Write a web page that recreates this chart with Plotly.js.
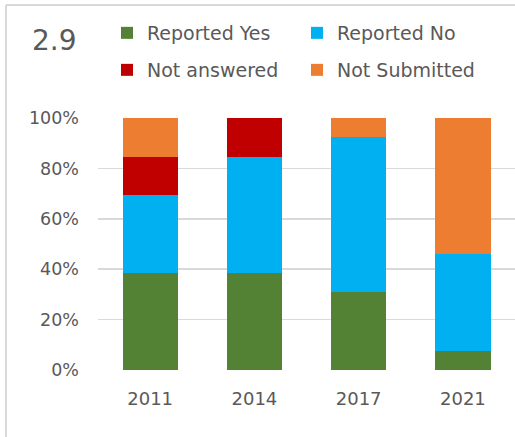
<!DOCTYPE html>
<html>
<head>
<meta charset="utf-8">
<script src="https://cdn.plot.ly/plotly-3.0.1.min.js"></script>
<style>html,body{margin:0;padding:0;background:#fff;}#chart{width:515px;height:437px;}</style>
</head>
<body>
<div id="chart"></div>
<script>
var years = ['2011', '2014', '2017', '2021'];
var reportedYes = [38.5, 38.5, 30.8, 7.7];
var reportedNo = [30.8, 46.2, 61.5, 38.5];
var notAnswered = [15.4, 15.4, 0, 0];
var notSubmitted = [15.4, 0, 7.7, 53.8];
var yTicks = [0, 20, 40, 60, 80, 100];
var yTickLabels = ['0%', '20%', '40%', '60%', '80%', '100%'];

var font = 'DejaVu Sans, sans-serif';
var grey = '#595959';

function bar(name, y, color, legend) {
  return {type: 'bar', name: name, x: years, y: y, legend: legend,
    marker: {color: color, line: {width: 0}}, hoverinfo: 'skip'};
}

var traces = [
  bar('Reported Yes', reportedYes, '#548235', 'legend'),
  bar('Reported No', reportedNo, '#00B0F0', 'legend2'),
  bar('Not answered', notAnswered, '#C00000', 'legend3'),
  bar('Not Submitted', notSubmitted, '#ED7D31', 'legend4')
];

var W = 515, H = 437, L = 98, R = 515, T = 118, B = 370;
function px(x) { return (x - L) / (R - L); }
function py(y) { return (B - y) / (B - T); }

function leg(x, y) {
  return {
    orientation: 'h', xref: 'container', yref: 'container', xanchor: 'left', yanchor: 'top',
    x: x / W, y: 1 - y / H,
    font: {family: font, size: 19, color: grey}, bgcolor: 'rgba(0,0,0,0)',
    itemclick: false, itemdoubleclick: false
  };
}

var borderLine = {color: '#D9D9D9', width: 2};

var layout = {
  width: W, height: H,
  margin: {l: L, r: 0, t: T, b: H - B, pad: 0, autoexpand: false},
  paper_bgcolor: '#fff', plot_bgcolor: '#fff',
  barmode: 'stack', bargap: 0.47,
  showlegend: true,
  legend: leg(107, 14),
  legend2: leg(297, 14),
  legend3: leg(107, 51),
  legend4: leg(297, 51),
  title: {text: '2.9', xref: 'container', yref: 'container', x: 32 / W, y: 1 - 40 / H,
    xanchor: 'left', yanchor: 'middle', font: {family: font, size: 28, color: grey}},
  xaxis: {type: 'category', showgrid: false, zeroline: false, showline: false, ticks: '',
    ticklabelstandoff: 16, tickfont: {family: font, size: 18, color: grey}, fixedrange: true},
  yaxis: {range: [0, 100], tickvals: yTicks, ticktext: yTickLabels, showgrid: true,
    gridcolor: '#D9D9D9', gridwidth: 1.5, zeroline: false, showline: false, ticks: '',
    ticklabelstandoff: 18, tickfont: {family: font, size: 17.5, color: grey}, fixedrange: true},
  shapes: [
    {type: 'line', xref: 'paper', yref: 'paper', layer: 'below',
      x0: px(6), x1: px(6), y0: py(440), y1: py(5), line: borderLine},
    {type: 'line', xref: 'paper', yref: 'paper', layer: 'below',
      x0: px(6), x1: px(520), y0: py(5), y1: py(5), line: borderLine}
  ]
};

Plotly.newPlot('chart', traces, layout, {displayModeBar: false, staticPlot: true});
</script>
</body>
</html>
